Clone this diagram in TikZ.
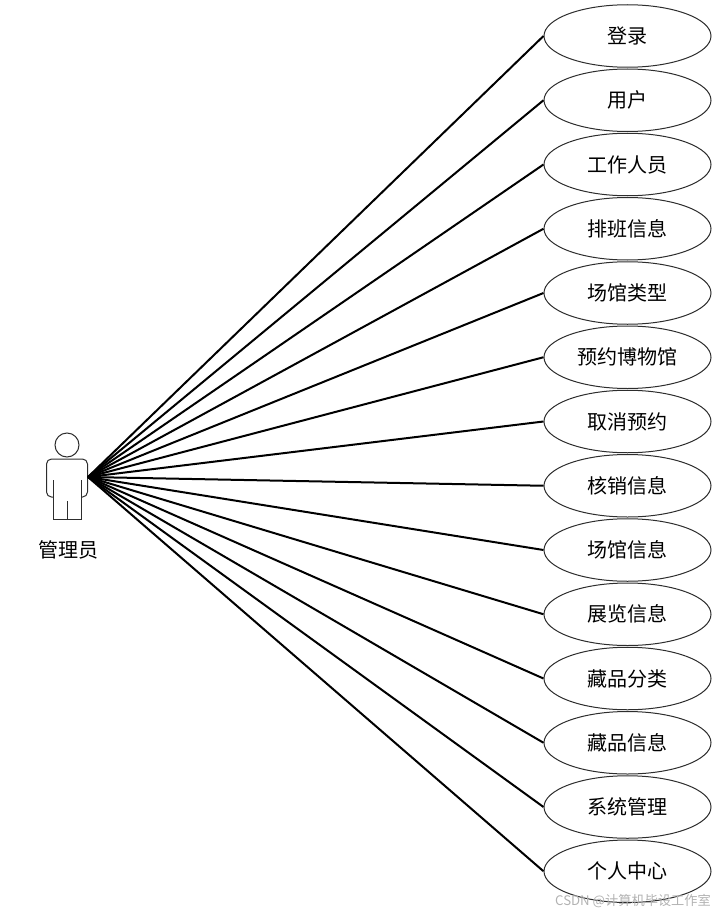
\documentclass[tikz,border=0pt]{standalone}
\usepackage{fontspec}
\setmainfont{Noto Sans CJK SC}
\usepackage{tikz}
\usetikzlibrary{shapes,positioning,calc}
\definecolor{outlinegray}{RGB}{45,45,45}
\definecolor{markgray}{RGB}{178,178,178}
\tikzset{
    usecase/.style={ellipse, draw=outlinegray, line width=1pt, minimum width=167pt, minimum height=62.5pt, inner sep=0pt, font=\fontsize{20}{20}\selectfont},
    actorline/.style={draw=outlinegray, line width=1pt, rounded corners=5pt},
    link/.style={draw=black, line width=2pt}
}

\begin{document}
\begin{tikzpicture}[x=1pt,y=-1pt]
            \useasboundingbox (0,0) rectangle (721,915);

            % actor
            \node[circle, draw=outlinegray, line width=1pt, minimum size=24pt, inner sep=0pt] (actorhead) at (67,445) {};
            \coordinate (actorhand) at (88,477);
            \draw[actorline] (53,497) -- (46.5,497) -- (46.5,459) -- (87.5,459) -- (87.5,497) -- (81,497);
            \draw[draw=outlinegray, line width=1pt] (53,480) -- (53,519) -- (81,519) -- (81,480);
            \draw[draw=outlinegray, line width=1pt] (67,501) -- (67,519);
            \node[font=\fontsize{20}{20}\selectfont, inner sep=0pt] (actorlabel) at (68,550) {管理员};

            % use cases
            \foreach \i/\name in {0/登录,1/用户,2/工作人员,3/排班信息,4/场馆类型,5/预约博物馆,6/取消预约,7/核销信息,8/场馆信息,9/展览信息,10/藏品分类,11/藏品信息,12/系统管理,13/个人中心}{
                \node[usecase] (case\i) at (627.5,{36+64.25*\i}) {\name};
                \draw[link] (actorhand) -- (case\i.west);
            }

            \node[anchor=east, text=markgray, font=\fontsize{13.2}{14}\selectfont, inner sep=0pt] (watermark) at (711,901) {CSDN @计算机毕设工作室};
        \end{tikzpicture}
\end{document}
